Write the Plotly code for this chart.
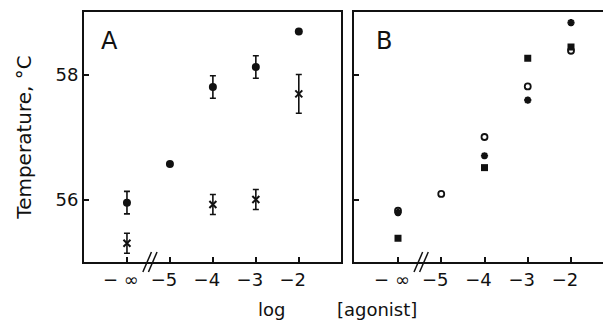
import plotly.graph_objects as go

# x positions: -6 stands for "−∞"
tick_vals = [-6, -5, -4, -3, -2]
tick_text = ["− ∞", "−5", "−4", "−3", "−2"]

# Panel A
a_circle_x = [-6, -5, -4, -3, -2]
a_circle_y = [55.95, 56.57, 57.80, 58.12, 58.69]
a_circle_err = [0.18, 0.0, 0.18, 0.18, 0.0]
a_cross_x = [-6, -4, -3, -2]
a_cross_y = [55.30, 55.92, 56.00, 57.69]
a_cross_err = [0.16, 0.16, 0.16, 0.31]

# Panel B
b_circle_x = [-6, -5, -4, -3, -2]
b_circle_y = [55.82, 56.09, 57.00, 57.81, 58.38]
b_star_x = [-6, -4, -3, -2]
b_star_y = [55.79, 56.70, 57.59, 58.83]
b_square_x = [-6, -4, -3, -2]
b_square_y = [55.38, 56.51, 58.26, 58.44]

FONT = "DejaVu Sans"
BLACK = "#111111"

fig = go.Figure()

fig.add_trace(go.Scatter(
    x=a_circle_x, y=a_circle_y, mode="markers", xaxis="x", yaxis="y",
    marker=dict(symbol="circle", size=8, color=BLACK),
    error_y=dict(type="data", array=a_circle_err, visible=True, color=BLACK, thickness=1.6, width=3),
    showlegend=False))
fig.add_trace(go.Scatter(
    x=a_cross_x, y=a_cross_y, mode="markers", xaxis="x", yaxis="y",
    marker=dict(symbol="x-thin-open", size=7, color=BLACK, line=dict(width=2, color=BLACK)),
    error_y=dict(type="data", array=a_cross_err, visible=True, color=BLACK, thickness=1.6, width=3),
    showlegend=False))

fig.add_trace(go.Scatter(
    x=b_square_x, y=b_square_y, mode="markers", xaxis="x2", yaxis="y2",
    marker=dict(symbol="square", size=7, color=BLACK),
    showlegend=False))
fig.add_trace(go.Scatter(
    x=b_circle_x, y=b_circle_y, mode="markers", xaxis="x2", yaxis="y2",
    marker=dict(symbol="circle-open", size=6, color=BLACK, line=dict(width=1.8, color=BLACK)),
    showlegend=False))
fig.add_trace(go.Scatter(
    x=b_star_x, y=b_star_y, mode="markers", xaxis="x2", yaxis="y2",
    marker=dict(symbol="asterisk-open", size=6, color=BLACK, line=dict(width=2.2, color=BLACK)),
    showlegend=False))

axis_common = dict(
    showline=True, linecolor=BLACK, linewidth=2, ticks="inside", ticklen=5,
    tickwidth=1.5, tickcolor=BLACK, showgrid=False, zeroline=False,
    tickfont=dict(family=FONT, size=18, color=BLACK))

fig.update_layout(
    width=603, height=328,
    margin=dict(l=84, r=0, t=12, b=66),
    paper_bgcolor="white", plot_bgcolor="white",
    xaxis=dict(domain=[0, 0.495], range=[-7, -1.02], tickvals=tick_vals, ticktext=tick_text,
               mirror=True, anchor="y", ticklabelshift=-6, **axis_common),
    yaxis=dict(domain=[0, 1], range=[55, 59], tickvals=[56, 58], mirror=True, anchor="x",
               title=dict(text="Temperature, °C", font=dict(family=FONT, size=20, color=BLACK), standoff=18),
               **axis_common),
    xaxis2=dict(domain=[0.52, 1], range=[-7.02, -1.26], tickvals=tick_vals, ticktext=tick_text,
                mirror=True, anchor="y2", ticklabelshift=-6, **axis_common),
    yaxis2=dict(domain=[0, 1], range=[55, 59], tickvals=[56, 58], showticklabels=False,
                mirror=False, anchor="x2", **axis_common),
)

# panel letters
fig.add_annotation(text="A", xref="x domain", yref="y domain", x=0.06, y=0.95,
                   xanchor="left", yanchor="top", showarrow=False,
                   font=dict(family=FONT, size=24, color=BLACK))
fig.add_annotation(text="B", xref="x2 domain", yref="y2 domain", x=0.08, y=0.95,
                   xanchor="left", yanchor="top", showarrow=False,
                   font=dict(family=FONT, size=24, color=BLACK))

# x title
fig.add_annotation(text="log" + "\u00a0" * 9 + "[agonist]", xref="paper", yref="paper",
                   x=0.4875, y=-0.19, xanchor="center", yanchor="middle", showarrow=False,
                   font=dict(family=FONT, size=18, color=BLACK))

# axis break marks
for xa, ya in (("x", "y domain"), ("x2", "y2 domain")):
    for dx in (-0.13, 0.0):
        fig.add_shape(type="line", xref=xa, yref=ya,
                      x0=-5.5 + dx, x1=-5.3 + dx, y0=-0.04, y1=0.04,
                      line=dict(color=BLACK, width=1.5))

fig.write_html("out.html", config={"displayModeBar": False},
               post_script="document.body.style.margin='0';")
